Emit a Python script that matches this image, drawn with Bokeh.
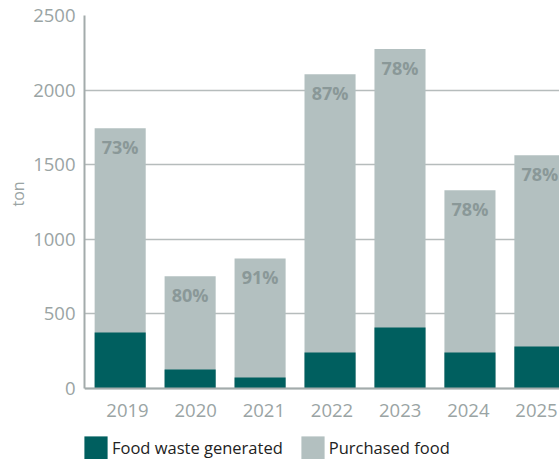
from bokeh.plotting import figure
from bokeh.models import ColumnDataSource, Range1d, FixedTicker, Legend, LegendItem, Title
from bokeh.core.properties import value
from bokeh.embed import file_html
from bokeh.resources import INLINE

years = [2019, 2020, 2021, 2022, 2023, 2024, 2025]
purchased = [1745, 752, 872, 2107, 2275, 1329, 1564]
waste = [376, 127, 74, 242, 409, 242, 282]
pct_labels = ["73%", "80%", "91%", "87%", "78%", "78%", "78%"]
y_ticks = [0, 500, 1000, 1500, 2000, 2500]

DARK = "#005f5f"
LIGHT = "#b3c0c0"
GREY_TXT = "#9aa4a4"
PCT_TXT = "#8a9898"
FONT = "Open Sans"

# frame spans 15..459 px; value 0 sits at 388 px and 2500 at 15 px
Y_TOP = 2500
Y_BOTTOM = -Y_TOP * (459 - 388) / (388 - 15)

src = ColumnDataSource(dict(x=years, purchased=purchased, waste=waste, pct=pct_labels))

p = figure(width=559, height=459, output_backend="svg", toolbar_location=None,
           x_range=Range1d(2018.49, 2025.28), y_range=Range1d(Y_BOTTOM, Y_TOP),
           min_border_left=84, min_border_right=0, min_border_top=15, min_border_bottom=0)
p.outline_line_color = None
# the year labels in the source sit on a slightly tighter spacing than the bars
p.extra_x_ranges = {"labels": Range1d(2018.369, 2025.337)}

r_p = p.vbar(x="x", top="purchased", bottom=0, width=0.73, source=src, fill_color=LIGHT, line_color=None)
r_w = p.vbar(x="x", top="waste", bottom=0, width=0.73, source=src, fill_color=DARK, line_color=None)

p.text(x="x", y="purchased", text="pct", source=src, text_align="center", text_baseline="top",
       y_offset=7, text_font=value(FONT), text_font_style="bold", text_font_size="18px",
       text_color=PCT_TXT)

p.xgrid.grid_line_color = None
p.ygrid.grid_line_color = "#b6bcbc"
p.ygrid.grid_line_width = 1.5
p.yaxis.ticker = FixedTicker(ticks=y_ticks)
p.xaxis.ticker = FixedTicker(ticks=years)
p.xaxis.x_range_name = "labels"
p.yaxis.bounds = (0, Y_TOP)
p.xaxis.fixed_location = 0

for ax in (p.xaxis, p.yaxis):
    ax.major_tick_line_color = None
    ax.minor_tick_line_color = None
    ax.major_tick_out = 0
    ax.major_tick_in = 0
    ax.minor_tick_out = 0
    ax.minor_tick_in = 0
    ax.major_label_text_font = FONT
    ax.major_label_text_font_size = "18.5px"
    ax.major_label_text_color = GREY_TXT
    ax.axis_line_color = "#a3abab"
    ax.axis_line_width = 2

p.yaxis.major_label_standoff = 9
p.xaxis.major_label_standoff = 15

ylabel = Title(text="ton", align="left", offset=253, text_font=FONT, text_font_size="16px",
               text_font_style="normal", text_color=GREY_TXT, standoff=4)
p.add_layout(ylabel, "left")

legend = Legend(items=[LegendItem(label="Food waste generated", renderers=[r_w]),
                       LegendItem(label="Purchased food", renderers=[r_p])],
                orientation="horizontal", location=(-3, -3),
                glyph_width=29, glyph_height=29, label_standoff=2, spacing=15,
                margin=0, padding=0, border_line_color=None, background_fill_alpha=0,
                label_text_font=FONT, label_text_font_size="16.5px", label_text_color="#222222",
                label_height=29)
p.add_layout(legend)

open("out.html", "w").write(file_html(p, INLINE))
